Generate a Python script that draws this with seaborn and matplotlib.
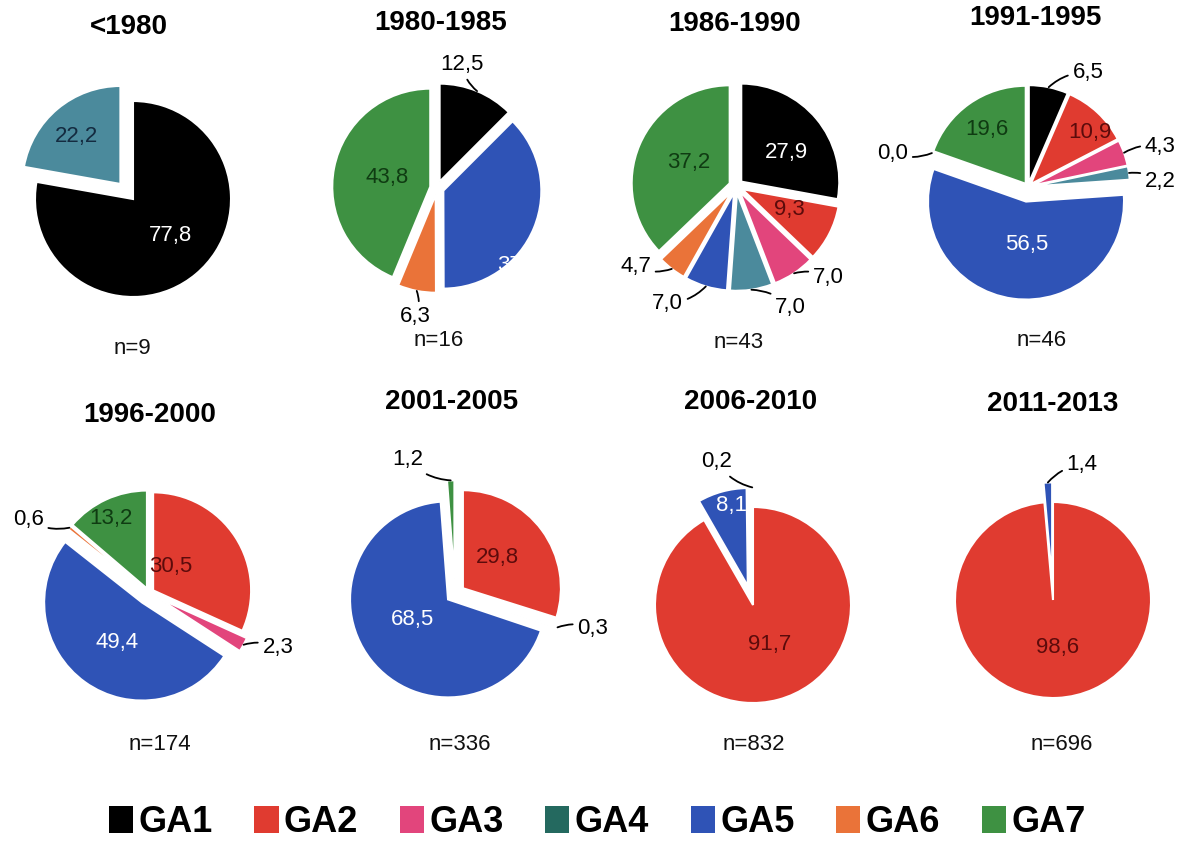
import numpy as np
import matplotlib
matplotlib.use("Agg")
import matplotlib.pyplot as plt
from matplotlib.patches import Patch
import seaborn as sns

# ---------------- data ----------------
groups = ["GA1", "GA2", "GA3", "GA4", "GA5", "GA6", "GA7"]
periods = ["<1980", "1980-1985", "1986-1990", "1991-1995",
           "1996-2000", "2001-2005", "2006-2010", "2011-2013"]
n_counts = [9, 16, 43, 46, 174, 336, 832, 696]

# percentage of each group per period (None = group absent)
pct_lt1980 = [77.8, None, None, 22.2, None, None, None]
pct_1980_1985 = [12.5, None, None, None, 37.5, 6.3, 43.8]
pct_1986_1990 = [27.9, 9.3, 7.0, 7.0, 7.0, 4.7, 37.2]
pct_1991_1995 = [6.5, 10.9, 4.3, 2.2, 56.5, 0.0, 19.6]
pct_1996_2000 = [None, 30.5, 2.3, None, 49.4, 0.6, 13.2]
pct_2001_2005 = [None, 29.8, 0.3, None, 68.5, None, 1.2]
pct_2006_2010 = [None, 91.7, None, None, 8.1, None, 0.2]
pct_2011_2013 = [None, 98.6, None, None, 1.4, None, None]
shares = [pct_lt1980, pct_1980_1985, pct_1986_1990, pct_1991_1995,
          pct_1996_2000, pct_2001_2005, pct_2006_2010, pct_2011_2013]

# ---------------- style ----------------
sns.set_theme(style="white")
plt.rcParams["font.family"] = ["Liberation Sans", "DejaVu Sans"]
plt.rcParams["text.color"] = "black"

wedge_colors = sns.color_palette(["#000000", "#e03b30", "#e2457c", "#4b8a9c",
                                  "#2f53b6", "#ea7339", "#3e9142"])
legend_colors = ["#000000", "#e03b30", "#e2457c", "#24695f",
                 "#2f53b6", "#ea7339", "#3e9142"]
inner_text_colors = ["white", "#5c0b0b", "#3a0a1a", "#142b40",
                     "white", "#3a1a05", "#0f3b12"]

# layout (pixels)
W, H = 1190, 843
R_PX = 98
LIM = 1.55
centers_px = [(133, 199), (437, 188), (736, 186), (1028, 187),
              (149, 593), (455, 594), (753, 605), (1053, 600)]
title_px = [(129, 27), (441, 23), (735, 24), (1035, 18),
            (150, 415), (452, 402), (751, 402), (1053, 404)]
nlab_px = [(132, 349), (439, 340), (739, 343), (1042, 340),
           (160, 745), (460, 745), (754, 745), (1062, 745)]

explodes = [
    [0, 0, 0, 0.20, 0, 0, 0],
    [0.07, 0, 0, 0, 0.07, 0.07, 0.07],
    [0.07] * 7,
    [0.04, 0.04, 0.04, 0.04, 0.15, 0.04, 0.04],
    [0, 0.05, 0.10, 0, 0.12, 0.05, 0.05],
    [0, 0.10, 0.10, 0, 0.09, 0, 0.16],
    [0, 0, 0, 0, 0.20, 0, 0.20],
    [0, 0, 0, 0, 0.20, 0, 0],
]

# label placement: ('in', radius fraction, angle shift) or ('out', dx, dy) from wedge edge
label_specs = [
    {0: ("in", 0.53, 6), 3: ("in", 0.66, 3)},
    {0: ("out", -0.15, 0.27), 4: ("in", 1.08, -22.5), 5: ("out", -0.01, -0.26),
     6: ("in", 0.45, -1)},
    {0: ("in", 0.55, -7), 1: ("in", 0.53, 3.5), 2: ("out", 0.35, -0.04),
     3: ("out", 0.40, -0.18), 4: ("out", -0.39, -0.17), 5: ("out", -0.37, 0.02),
     6: ("in", 0.47, -4)},
    {0: ("out", 0.40, 0.15), 1: ("in", 0.80, -6), 2: ("out", 0.37, 0.06),
     3: ("out", 0.32, -0.09), 4: ("in", 0.44, 9), 5: ("out", -0.40, 0.0),
     6: ("in", 0.68, 0)},
    {1: ("in", 0.30, 21), 2: ("out", 0.35, -0.03), 4: ("in", 0.48, 3),
     5: ("out", -0.42, 0.08), 6: ("in", 0.80, 2.5)},
    {1: ("in", 0.47, 6), 2: ("out", 0.36, -0.01), 4: ("in", 0.42, -8),
     6: ("out", -0.44, 0.21)},
    {1: ("in", 0.44, 8), 4: ("in", 0.84, -4), 6: ("out", -0.36, 0.26)},
    {1: ("in", 0.49, 2.5), 4: ("out", 0.35, 0.18)},
]

LABEL_FS = 16
fig = plt.figure(figsize=(W / 100, H / 100), dpi=100)

for i, vals in enumerate(shares):
    cx, cy = centers_px[i]
    half = LIM * R_PX
    ax = fig.add_axes([(cx - half) / W, 1 - (cy + half) / H, 2 * half / W, 2 * half / H])
    idx = [k for k, v in enumerate(vals) if v is not None]
    v = [vals[k] for k in idx]
    wedges, _ = ax.pie(v, colors=[wedge_colors[k] for k in idx],
                       explode=[explodes[i][k] for k in idx],
                       startangle=90, counterclock=False, radius=1,
                       wedgeprops=dict(edgecolor="white", linewidth=1.5))
    ax.set_xlim(-LIM, LIM)
    ax.set_ylim(-LIM, LIM)
    ax.axis("off")
    for w, k in zip(wedges, idx):
        spec = label_specs[i].get(k)
        if spec is None:
            continue
        txt = f"{vals[k]:.1f}".replace(".", ",")
        mid = np.deg2rad((w.theta1 + w.theta2) / 2)
        wcx, wcy = w.center
        if spec[0] == "in":
            a = mid + np.deg2rad(spec[2])
            ax.text(wcx + spec[1] * np.cos(a), wcy + spec[1] * np.sin(a), txt,
                    ha="center", va="center", fontsize=LABEL_FS,
                    color=inner_text_colors[k])
        else:
            ex, ey = wcx + np.cos(mid), wcy + np.sin(mid)
            ax.annotate(txt, xy=(ex, ey), xytext=(ex + spec[1], ey + spec[2]),
                        ha="center", va="center", fontsize=LABEL_FS, color="black",
                        annotation_clip=False,
                        arrowprops=dict(arrowstyle="-", color="black", lw=1.3,
                                        shrinkA=1, shrinkB=0,
                                        connectionstyle="arc3,rad=0.2"))
    tx, ty = title_px[i]
    fig.text(tx / W, 1 - ty / H, periods[i], ha="center", va="center",
             fontsize=20, fontweight="bold", color="black")
    nx, ny = nlab_px[i]
    fig.text(nx / W, 1 - ny / H, f"n={n_counts[i]}", ha="center", va="center",
             fontsize=16, color="#111111")

handles = [Patch(facecolor=c, edgecolor="none", label=g)
           for g, c in zip(groups, legend_colors)]
leg = fig.legend(handles=handles, loc="lower center", bbox_to_anchor=(0.502, -0.022),
                 ncol=7, frameon=False, prop=dict(weight="bold", size=26),
                 handlelength=0.67, handleheight=0.78, handletextpad=0.15,
                 columnspacing=1.15, borderpad=0.1)
for t in leg.get_texts():
    t.set_color("black")

fig.savefig("out.png", dpi=100)
